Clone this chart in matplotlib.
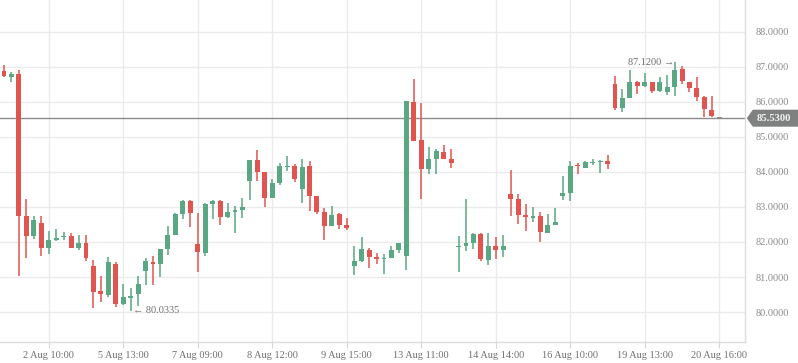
import numpy as np
import matplotlib
matplotlib.use('Agg')
import matplotlib.pyplot as plt
from matplotlib.patches import Polygon
from matplotlib.transforms import IdentityTransform

# OHLC, one candle per slot
opens = [86.88, 86.71, 86.79, 82.73, 82.17, 82.53, 81.83, 82.05, 82.13, 82.16,
         81.83, 81.96, 81.31, 80.59, 80.48, 81.38, 80.23, 80.41, 80.51, 81.17,
         81.42, 81.37, 81.80, 82.20, 82.79, 83.16, 81.93, 81.69, 83.09, 83.16,
         82.71, 82.86, 82.91, 83.74, 84.33, 84.00, 83.26, 83.69, 84.14, 84.16,
         83.51, 84.16, 83.30, 82.85, 82.46, 82.79, 82.48, 81.31, 81.46, 81.76,
         81.57, 81.51, 81.54, 81.77, 81.60, 85.99, 84.90, 84.09, 84.37, 84.56,
         84.36, 81.86, 81.89, 81.97, 82.22, 81.49, 81.90, 81.77, 83.36, 83.22,
         82.76, 82.69, 82.73, 82.26, 82.49, 83.31, 83.40, 84.19, 84.11, 84.26,
         84.29, 84.30, 86.50, 85.83, 86.10, 86.55, 86.46, 86.55, 86.31, 86.27,
         86.43, 86.93, 86.56, 86.39, 86.13, 85.76, 85.53]
highs = [87.05, 86.85, 86.91, 83.22, 82.73, 82.73, 82.31, 82.36, 82.28, 82.25,
         82.19, 82.19, 81.50, 81.02, 81.57, 81.44, 80.79, 80.68, 81.02, 81.54,
         81.59, 81.79, 82.45, 82.83, 83.19, 83.21, 82.82, 83.11, 83.19, 83.21,
         83.10, 83.02, 83.25, 84.33, 84.62, 84.00, 83.80, 84.25, 84.45, 84.22,
         84.36, 84.30, 83.30, 82.96, 83.02, 82.82, 82.68, 81.88, 82.13, 81.82,
         81.68, 81.65, 81.90, 81.96, 86.02, 86.65, 85.96, 84.70, 84.65, 84.76,
         84.65, 82.16, 83.22, 82.25, 82.25, 82.25, 82.13, 82.19, 84.05, 83.36,
         83.08, 82.99, 82.85, 82.79, 82.96, 83.88, 84.30, 84.25, 84.30, 84.36,
         84.33, 84.48, 86.73, 86.36, 86.90, 86.59, 86.81, 86.55, 86.70, 86.75,
         87.12, 87.02, 86.56, 86.70, 86.16, 86.16, 85.53]
lows = [86.71, 86.57, 81.03, 81.54, 82.09, 81.60, 81.66, 82.02, 82.05, 81.83,
        81.77, 81.46, 80.11, 80.29, 80.42, 80.14, 80.19, 80.0335, 80.17, 80.77,
        80.77, 81.00, 81.62, 82.20, 82.66, 82.43, 81.14, 81.60, 82.66, 82.48,
        82.68, 82.26, 82.68, 83.19, 83.74, 83.00, 83.26, 83.63, 84.02, 83.71,
        83.11, 82.89, 82.80, 82.06, 82.46, 82.37, 82.34, 81.06, 81.43, 81.26,
        81.37, 81.09, 81.54, 81.69, 81.20, 84.89, 83.23, 83.94, 83.94, 84.37,
        84.11, 81.14, 81.74, 81.80, 81.46, 81.34, 81.51, 81.57, 82.74, 82.51,
        82.31, 82.57, 82.00, 82.26, 82.49, 83.20, 83.17, 83.93, 84.11, 84.19,
        83.96, 84.08, 85.77, 85.71, 86.10, 86.22, 86.43, 86.26, 86.29, 86.20,
        86.17, 86.51, 86.29, 86.03, 85.56, 85.56, 85.53]
closes = [86.74, 86.79, 82.73, 82.17, 82.62, 81.83, 82.05, 82.11, 82.16, 81.83,
          81.96, 81.54, 80.57, 80.52, 81.42, 80.23, 80.42, 80.45, 80.79, 81.45,
          81.36, 81.79, 82.19, 82.79, 83.17, 82.83, 81.71, 83.08, 83.16, 82.71,
          82.85, 82.91, 82.99, 84.33, 84.00, 83.26, 83.69, 84.16, 84.16, 83.80,
          84.13, 83.31, 82.86, 82.46, 82.76, 82.49, 82.40, 81.45, 81.79, 81.57,
          81.51, 81.54, 81.76, 81.96, 86.02, 84.89, 84.09, 84.36, 84.59, 84.37,
          84.26, 81.88, 81.96, 82.22, 81.51, 81.90, 81.77, 81.88, 83.22, 82.77,
          82.71, 82.73, 82.29, 82.48, 82.56, 83.39, 84.16, 84.16, 84.28, 84.29,
          84.30, 84.22, 85.83, 86.10, 86.56, 86.46, 86.55, 86.31, 86.55, 86.41,
          86.90, 86.58, 86.40, 86.14, 85.80, 85.60, 85.53]

tick_pos = [6, 16, 26, 36, 46, 56, 66, 76, 86, 96]
tick_labels = ['2 Aug 10:00', '5 Aug 13:00', '7 Aug 09:00', '8 Aug 12:00',
               '9 Aug 15:00', '13 Aug 11:00', '14 Aug 14:00', '16 Aug 10:00',
               '19 Aug 13:00', '20 Aug 16:00']
price_ticks = [80, 81, 82, 83, 84, 85, 86, 87, 88]
last_price = 85.53

UP = '#5aa784'
DOWN = '#e0554f'
FLAT = '#8a8a8a'
GRID = '#ebebeb'
serif = ['Liberation Serif', 'DejaVu Serif']

plt.rcParams['font.family'] = serif

fig = plt.figure(figsize=(7.98, 3.63), dpi=100)
ax = fig.add_axes([0, 1 - 342.3 / 363, 745.3 / 798, 342.3 / 363])

o = np.array(opens)
h = np.array(highs)
l = np.array(lows)
c = np.array(closes)
idx = np.arange(len(o))

colors = []
for i in idx:
    if i == len(o) - 1:
        colors.append(FLAT)
    elif c[i] >= o[i]:
        colors.append(UP)
    else:
        colors.append(DOWN)

ax.vlines(idx, l, h, colors=colors, linewidth=1.1, zorder=3)
body_lo = np.minimum(o, c)
body_h = np.maximum(np.abs(c - o), 0.03)
ax.bar(idx, body_h, bottom=body_lo, width=0.66, color=colors, linewidth=0, zorder=4)

# last price line
ax.axhline(last_price, color='#8c8c8c', linewidth=1.0, zorder=2)

ax.set_xlim(-0.54, 99.49)
ax.set_ylim(79.14, 88.90)

ax.set_xticks(tick_pos)
ax.set_xticklabels(tick_labels)
ax.set_yticks(price_ticks)
ax.set_yticklabels([f'{v:.4f}' for v in price_ticks])
ax.yaxis.tick_right()
ax.tick_params(axis='x', length=4, width=0.8, color='#d6d6d6', pad=2,
               labelsize=7.4, labelcolor='#6f6f6f')
ax.tick_params(axis='y', length=0, pad=7.5, labelsize=7.4, labelcolor='#8a8a8a')
for lab in ax.get_yticklabels():
    lab.set_horizontalalignment('left')

ax.grid(True, color=GRID, linewidth=1.0, zorder=0)
ax.set_axisbelow(True)
for side in ['left', 'top']:
    ax.spines[side].set_visible(False)
for side in ['right', 'bottom']:
    ax.spines[side].set_color('#dcdcdc')
    ax.spines[side].set_linewidth(1.0)

# high / low annotations
lo_i = int(np.argmin(l))
hi_i = int(np.argmax(h))
ax.text(lo_i + 0.25, l[lo_i], '\u2190 ' + f'{l[lo_i]:.4f}', ha='left', va='center',
        fontsize=7.4, color='#6f6f6f', zorder=5)
ax.text(hi_i - 0.1, h[hi_i], f'{h[hi_i]:.4f}' + ' \u2192', ha='right', va='center',
        fontsize=7.4, color='#6f6f6f', zorder=5)

# last price tag on the right axis
fig.canvas.draw()
_, py = ax.transData.transform((0, last_price))
x0 = ax.transAxes.transform((1, 0))[0] + 1.5
tag = Polygon([[x0, py], [x0 + 6, py + 8.5], [x0 + 60, py + 8.5],
               [x0 + 60, py - 8.5], [x0 + 6, py - 8.5]],
              closed=True, transform=IdentityTransform(), facecolor='#7f8181',
              edgecolor='none', zorder=10)
fig.patches.append(tag)
fig.text((x0 + 9.5) / 798, py / 363, f'{last_price:.4f}', ha='left', va='center',
         fontsize=7.6, color='#f2f2f2', fontweight='bold', zorder=11)

fig.savefig('out.png', dpi=100)
